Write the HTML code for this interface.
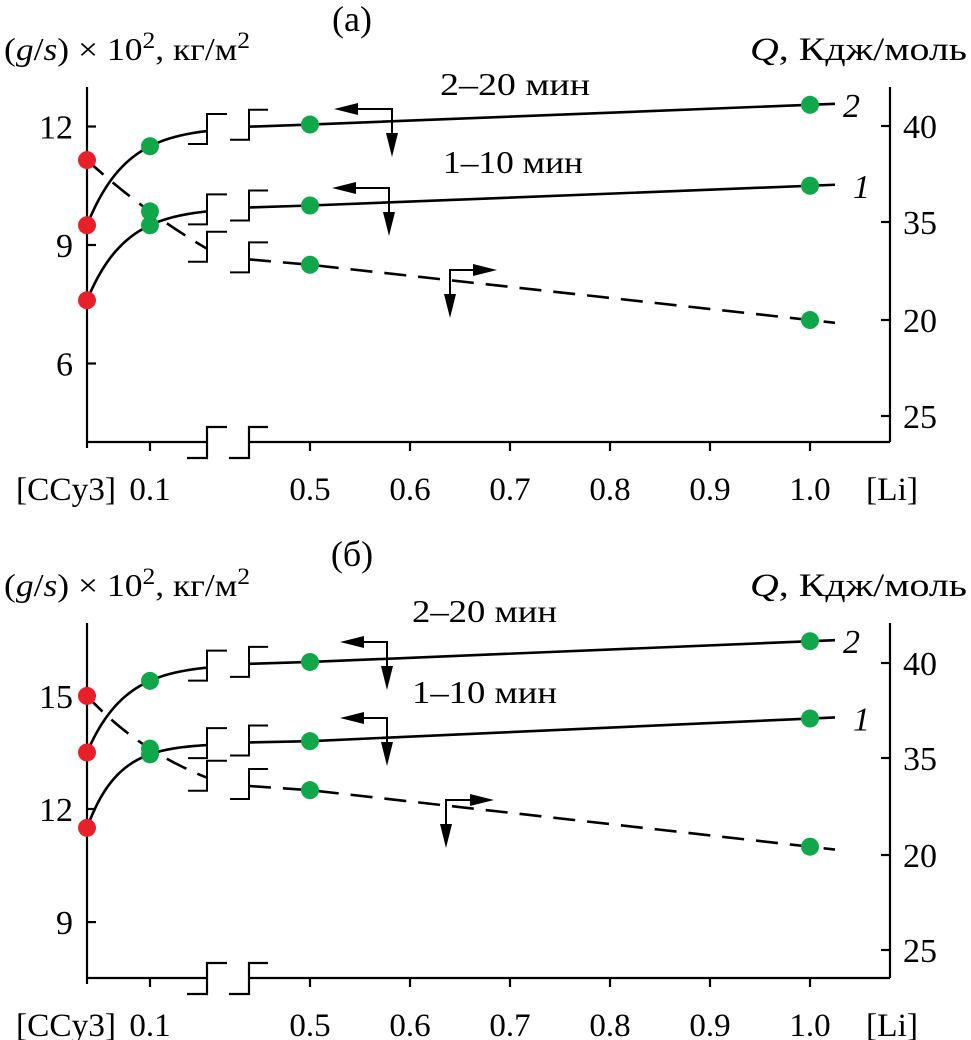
<!DOCTYPE html>
<html><head><meta charset="utf-8">
<style>
html,body{margin:0;padding:0;background:#fff;}
svg{display:block;}
text{font-family:"Liberation Serif","DejaVu Serif",serif;fill:#000;}
</style></head>
<body>
<svg id="chart" width="971" height="1040" viewBox="0 0 971 1040" xmlns="http://www.w3.org/2000/svg">
</svg>
<script>
// ---- data ----
const xCats = [0, 0.1, 0.5, 1.0];
const xTickVals = [0.1, 0.5, 0.6, 0.7, 0.8, 0.9, 1.0];
const xTickLabels = ["0.1", "0.5", "0.6", "0.7", "0.8", "0.9", "1.0"];
// panel (a)
const a_curve2 = [9.5, 11.5, 12.05, 12.55];
const a_curve1 = [7.6, 9.5, 10.0, 10.5];
const a_dashed = [11.15, 9.85, 8.5, 7.1];
const a_leftTicks = [12, 9, 6];
const a_rightTickLabels = ["40", "35", "20", "25"];
// panel (б)
const b_curve2 = [13.5, 15.4, 15.9, 16.45];
const b_curve1 = [11.5, 13.45, 13.8, 14.4];
const b_dashed = [15.0, 13.6, 12.5, 11.0];
const b_leftTicks = [15, 12, 9];
const b_rightTickLabels = ["40", "35", "20", "25"];

const NS = "http://www.w3.org/2000/svg";
const svg = document.getElementById("chart");
function mk(tag, attrs, parent, txt) {
  const e = document.createElementNS(NS, tag);
  for (const k in attrs) e.setAttribute(k, attrs[k]);
  if (txt !== undefined) e.textContent = txt;
  (parent || svg).appendChild(e);
  return e;
}
function xPx(v) { return v <= 0.1 ? 87 + 630 * v : 310 + (v - 0.5) * 1000; }
function xLeftPx(v) { return 87 + 630 * v; }
const BL = 207, BR = 249;
const XB = (BL - 87) / 630;

// saturating curve v(x) = A - B*q^(x/0.1) through (0,v0),(0.1,v1),(XB,vb)
function satCurve(v0, v1, vb) {
  const r = (vb - v1) / (v1 - v0);
  const p = XB / 0.1;
  const f = q => (q - Math.pow(q, p)) / (1 - q);
  let lo = 0.0001, hi = 0.9999;
  for (let i = 0; i < 60; i++) { const m = (lo + hi) / 2; if (f(m) < r) lo = m; else hi = m; }
  const q = (lo + hi) / 2;
  const B = (v1 - v0) / (1 - q);
  const A = v0 + B;
  return x => A - B * Math.pow(q, x / 0.1);
}

function panel(cfg) {
  const g = mk("g", {});
  
  
  const yPx = v => cfg.y0 - (v - cfg.v0) * cfg.scale;
  const top = cfg.top, bot = cfg.bot;
  const ax = { stroke: "#000", "stroke-width": 2.2, fill: "none" };
  const la = mk("line", Object.assign({ x1: 87, y1: top, x2: 87, y2: bot + 6 }, ax), g);
  
  
  const ra = mk("line", Object.assign({ x1: 890, y1: top, x2: 890, y2: bot }, ax), g);
  
  
  const ba = mk("path", Object.assign({ d: `M87,${bot} H${BL} M${BR},${bot} H890` }, ax), g);
  
  
  const brk = mk("path", Object.assign({ d: `M187,${bot+16} H${BL} V${bot-15} H227 M229,${bot+16} H${BR} V${bot-15} H268` }, ax), g);
  
  
  xTickVals.forEach((v, i) => {
    const x = xPx(v);
    mk("line", Object.assign({ x1: x, y1: bot, x2: x, y2: bot + 9 }, ax), g);
    const t = mk("text", { x: x, y: bot + 58, "font-size": 33, "text-anchor": "middle" }, g, xTickLabels[i]);
    
    
  });
  const xl = mk("text", { x: 16, y: bot + 58, "font-size": 33, textLength: 100, lengthAdjust: "spacingAndGlyphs" }, g, "[CCy3]");
  
  
  const xt = mk("text", { x: 866, y: bot + 58, "font-size": 33, textLength: 52, lengthAdjust: "spacingAndGlyphs" }, g, "[Li]");
  
  
  cfg.leftTicks.forEach(v => {
    const y = yPx(v);
    mk("line", Object.assign({ x1: 87, y1: y, x2: 96, y2: y }, ax), g);
    const t = mk("text", { x: 73, y: y + 12, "font-size": 34, "text-anchor": "end" }, g, String(v));
    
    
  });
  cfg.rightTickLabels.forEach((lab, i) => {
    const y = cfg.rightY[i];
    mk("line", Object.assign({ x1: 881, y1: y, x2: 890, y2: y }, ax), g);
    const t = mk("text", { x: 903, y: y + 12, "font-size": 34 }, g, lab);
    
    
  });
  const lt = mk("text", { x: 4, y: cfg.titleY, "font-size": 32, textLength: 246, lengthAdjust: "spacingAndGlyphs" }, g);
  lt.innerHTML = '(<tspan font-style="italic">g</tspan>/<tspan font-style="italic">s</tspan>) × 10<tspan dy="-12" font-size="23">2</tspan><tspan dy="12">, кг/м</tspan><tspan dy="-12" font-size="23">2</tspan>';
  
  
  const rt = mk("text", { x: 750, y: cfg.titleY, "font-size": 33, textLength: 217, lengthAdjust: "spacingAndGlyphs" }, g);
  rt.innerHTML = '<tspan font-style="italic">Q</tspan>, Кдж/моль';
  
  
  const pl = mk("text", { x: 352, y: cfg.labelY, "font-size": 36, "text-anchor": "middle" }, g, cfg.label);
  
  

  const series = [
    { vals: cfg.c2, dash: null, name: "curve-2" },
    { vals: cfg.c1, dash: null, name: "curve-1" },
    { vals: cfg.cd, dash: "22,12", name: "curve-dashed" }
  ];
  series.forEach(s => {
    const v = s.vals;
    const vb = v[1] + 0.7 * (v[2] - v[1]);
    const vr = v[2] - 0.1 * (v[2] - v[1]);
    const fn = satCurve(v[0], v[1], vb);
    let d = "";
    for (let i = 0; i <= 60; i++) {
      const x = XB * i / 60;
      d += (i ? " L" : "M") + xLeftPx(x).toFixed(2) + "," + yPx(fn(x)).toFixed(2);
    }
    const st = { stroke: "#000", "stroke-width": 2.6, fill: "none" };
    if (s.dash) st["stroke-dasharray"] = s.dash;
    const left = mk("path", Object.assign({ d: d }, st), g);
    
    
    const slope = (v[3] - v[2]) / 0.5;
    const xe = 1.025;
    const right = mk("path", Object.assign({ d: `M${BR},${yPx(vr)} L${xPx(0.5)},${yPx(v[2])} L${xPx(xe)},${yPx(v[2] + slope * (xe - 0.5))}` }, st), g);
    
    
    const yl = yPx(vb), yr = yPx(vr);
    const bk = mk("path", { d: `M188,${yl+13} H${BL} V${yl-17} H227 M230,${yr+13} H${BR} V${yr-17} H268`, stroke: "#000", "stroke-width": 2, fill: "none" }, g);
    
    
    xCats.forEach((xc, i) => {
      const c = mk("circle", { cx: xPx(xc), cy: yPx(v[i]), r: 9, fill: i === 0 ? "#e8202a" : "#10a64a" }, g);
      
      
    });
  });
  const l2 = mk("text", { x: 843, y: yPx(cfg.c2[3]) + 12, "font-size": 34, "font-style": "italic" }, g, "2");
  
  
  const l1 = mk("text", { x: 853, y: yPx(cfg.c1[3]) + 12, "font-size": 34, "font-style": "italic" }, g, "1");
  
  
  const t2 = mk("text", { x: cfg.ann2[0], y: cfg.ann2[1], "font-size": 32, textLength: cfg.ann2[2], lengthAdjust: "spacingAndGlyphs" }, g, "2–20 мин");
  
  
  const t1 = mk("text", { x: cfg.ann1[0], y: cfg.ann1[1], "font-size": 32, textLength: cfg.ann1[2], lengthAdjust: "spacingAndGlyphs" }, g, "1–10 мин");
  
  
  cfg.arrows.forEach(a => {
    const [cx, cy, hx] = a;
    const dir = hx < cx ? -1 : 1;
    const ar = mk("path", { d: `M${cx},${cy+40} V${cy} H${hx - dir*20}`, stroke: "#000", "stroke-width": 2, fill: "none" }, g);
    
    
    mk("path", { d: `M${hx},${cy} L${hx - dir*24},${cy-6} L${hx - dir*24},${cy+6} z`, fill: "#000" }, g);
    mk("path", { d: `M${cx},${cy+48} L${cx-6},${cy+24} L${cx+6},${cy+24} z`, fill: "#000" }, g);
  });
}

panel({ name: "panel-a", top: 87, bot: 442, y0: 245, v0: 9, scale: 39.5,
  c2: a_curve2, c1: a_curve1, cd: a_dashed, leftTicks: a_leftTicks,
  rightTickLabels: a_rightTickLabels, rightY: [126, 222, 320, 416],
  titleY: 60, labelY: 31, label: "(a)",
  ann2: [440, 95, 150], ann1: [443, 173, 140],
  arrows: [[392, 109, 334], [389, 188, 332], [450, 270, 497]] });
panel({ name: "panel-b", top: 623, bot: 978, y0: 809, v0: 12, scale: 37.7,
  c2: b_curve2, c1: b_curve1, cd: b_dashed, leftTicks: b_leftTicks,
  rightTickLabels: b_rightTickLabels, rightY: [663, 758, 855, 950],
  titleY: 596, labelY: 566, label: "(б)",
  ann2: [412, 622, 145], ann1: [412, 703, 145],
  arrows: [[387, 642, 340], [387, 718, 340], [446, 800, 494]] });
</script>
</body></html>
